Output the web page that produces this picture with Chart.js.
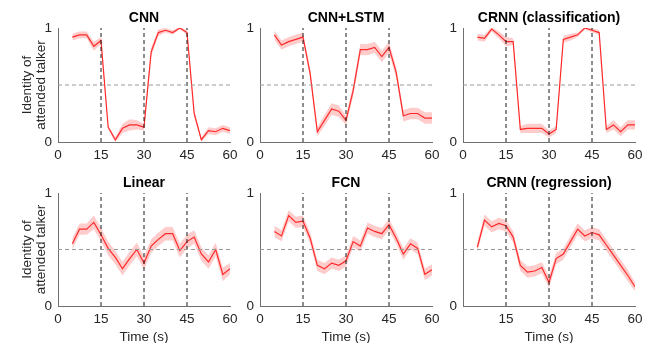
<!DOCTYPE html>
<html>
<head>
<meta charset="utf-8">
<script src="https://cdn.jsdelivr.net/npm/chart.js@4.4.1/dist/chart.umd.min.js"></script>
<style>
html, body { margin: 0; padding: 0; background: #fff; }
#wrap { position: relative; width: 656px; height: 343px; overflow: hidden; }
#wrap canvas { position: absolute; }
</style>
</head>
<body>
<div id="wrap"></div>
<script>
"use strict";

// time axis and ticks
var timeSec = [5, 7.5, 10, 12.5, 15, 17.5, 20, 22.5, 25, 27.5, 30, 32.5, 35, 37.5, 40, 42.5, 45, 47.5, 50, 52.5, 55, 57.5, 60];
var xTickValues = [0, 15, 30, 45, 60];
var yTickValues = [0, 1];
var switchTimes = [15, 30, 45];
var chanceLevel = 0.5;

var panelTitles = ['CNN', 'CNN+LSTM', 'CRNN (classification)', 'Linear', 'FCN', 'CRNN (regression)'];
var yAxisLabel = ['Identity of', 'attended talker'];
var xAxisLabel = 'Time (s)';

// mean and shaded band half-width, per model
var cnnMean = [0.92, 0.94, 0.94, 0.84, 0.89, 0.13, 0.02, 0.12, 0.15, 0.15, 0.13, 0.79, 0.96, 0.98, 0.96, 1.0, 0.96, 0.25, 0.02, 0.10, 0.09, 0.12, 0.10];
var cnnSem = [0.03, 0.03, 0.03, 0.04, 0.03, 0.02, 0.02, 0.04, 0.05, 0.04, 0.03, 0.04, 0.03, 0.02, 0.02, 0.01, 0.02, 0.03, 0.02, 0.03, 0.03, 0.03, 0.03];

var cnnLstmMean = [0.94, 0.85, 0.88, 0.90, 0.92, 0.60, 0.09, 0.19, 0.29, 0.27, 0.19, 0.45, 0.81, 0.81, 0.83, 0.75, 0.83, 0.61, 0.23, 0.25, 0.25, 0.21, 0.21];
var cnnLstmSem = [0.04, 0.04, 0.04, 0.04, 0.04, 0.04, 0.04, 0.05, 0.05, 0.05, 0.04, 0.05, 0.05, 0.05, 0.05, 0.05, 0.05, 0.05, 0.05, 0.05, 0.05, 0.05, 0.05];

var crnnClsMean = [0.92, 0.91, 0.99, 0.94, 0.88, 0.88, 0.11, 0.12, 0.12, 0.12, 0.07, 0.11, 0.90, 0.92, 0.94, 1.0, 0.98, 0.96, 0.11, 0.15, 0.09, 0.15, 0.15];
var crnnClsSem = [0.03, 0.03, 0.02, 0.03, 0.04, 0.03, 0.03, 0.04, 0.04, 0.04, 0.03, 0.03, 0.03, 0.03, 0.02, 0.01, 0.02, 0.02, 0.03, 0.04, 0.04, 0.04, 0.04];

var linearMean = [0.55, 0.68, 0.68, 0.74, 0.63, 0.51, 0.43, 0.33, 0.42, 0.50, 0.38, 0.53, 0.59, 0.64, 0.64, 0.49, 0.57, 0.61, 0.46, 0.39, 0.50, 0.28, 0.33];
var linearSem = [0.05, 0.05, 0.05, 0.06, 0.06, 0.06, 0.06, 0.06, 0.06, 0.06, 0.06, 0.06, 0.06, 0.06, 0.06, 0.06, 0.06, 0.06, 0.06, 0.06, 0.06, 0.06, 0.05];

var fcnMean = [0.66, 0.62, 0.80, 0.74, 0.75, 0.60, 0.36, 0.33, 0.38, 0.36, 0.40, 0.57, 0.53, 0.69, 0.66, 0.64, 0.72, 0.60, 0.46, 0.55, 0.51, 0.28, 0.32];
var fcnSem = [0.05, 0.05, 0.05, 0.05, 0.05, 0.05, 0.05, 0.05, 0.05, 0.05, 0.05, 0.05, 0.05, 0.05, 0.05, 0.05, 0.05, 0.05, 0.05, 0.05, 0.05, 0.05, 0.05];

var crnnRegMean = [0.52, 0.76, 0.70, 0.73, 0.71, 0.61, 0.36, 0.30, 0.31, 0.34, 0.21, 0.42, 0.46, 0.57, 0.68, 0.62, 0.65, 0.63, 0.54, 0.45, 0.36, 0.27, 0.17];
var crnnRegSem = [0.04, 0.05, 0.05, 0.05, 0.05, 0.05, 0.05, 0.05, 0.05, 0.05, 0.05, 0.05, 0.05, 0.05, 0.05, 0.05, 0.05, 0.05, 0.05, 0.05, 0.05, 0.05, 0.04];

var panelMeans = [cnnMean, cnnLstmMean, crnnClsMean, linearMean, fcnMean, crnnRegMean];
var panelSems = [cnnSem, cnnLstmSem, crnnClsSem, linearSem, fcnSem, crnnRegSem];

// layout (pixels)
var PLOT_LEFT = [58, 260, 463];
var PLOT_WIDTH = 172;
var ROW_TOP = [0, 165];
var ROW_HEIGHT = [165, 180];
var PLOT_HEIGHT = [114, 113];
var TITLE_SPACE = 28;
var RIGHT_PAD = 14;

var FONT = '"Liberation Sans", Arial, Helvetica, sans-serif';
var AXIS_COLOR = '#707070';
var TEXT_COLOR = '#262626';

var panelTitlePlugin = {
    id: 'panelTitle',
    afterDraw: function (chart, args, opts) {
        var ctx = chart.ctx;
        var area = chart.chartArea;
        ctx.save();
        ctx.font = 'bold 14px ' + FONT;
        ctx.fillStyle = '#000';
        ctx.textAlign = 'center';
        ctx.textBaseline = 'alphabetic';
        ctx.fillText(opts.text, (area.left + area.right) / 2, area.top - 6);
        ctx.restore();
    }
};

function toPoints(values, sign, errs) {
    return timeSec.map(function (t, i) {
        return { x: t, y: values[i] + sign * (errs ? errs[i] : 0) };
    });
}

function buildDatasets(mean, sem) {
    var sets = [];
    sets.push({
        data: [{ x: 0, y: chanceLevel }, { x: 60, y: chanceLevel }],
        borderColor: '#9a9a9a', borderWidth: 1, borderDash: [4, 3],
        pointRadius: 0, fill: false
    });
    switchTimes.forEach(function (t) {
        sets.push({
            data: [{ x: t, y: 0 }, { x: t, y: 1 }],
            borderColor: '#1a1a1a', borderWidth: 1, borderDash: [4, 3],
            pointRadius: 0, fill: false
        });
    });
    sets.push({
        data: toPoints(mean, 0),
        borderColor: '#ff2a2a', borderWidth: 1.2,
        pointRadius: 0, fill: false, tension: 0
    });
    sets.push({
        data: toPoints(mean, 1, sem),
        borderWidth: 0, borderColor: 'rgba(0,0,0,0)',
        pointRadius: 0, fill: false, tension: 0
    });
    sets.push({
        data: toPoints(mean, -1, sem),
        borderWidth: 0, borderColor: 'rgba(0,0,0,0)',
        backgroundColor: 'rgba(255,0,0,0.2)',
        pointRadius: 0, fill: '-1', tension: 0
    });
    return sets;
}

function makePanel(idx) {
    var row = Math.floor(idx / 3);
    var col = idx % 3;
    var yW = col === 0 ? 58 : 30;
    var width = yW + PLOT_WIDTH + RIGHT_PAD;
    var height = ROW_HEIGHT[row];
    var xH = height - TITLE_SPACE - PLOT_HEIGHT[row];
    var hideZero = idx === 5;

    var canvas = document.createElement('canvas');
    canvas.width = width;
    canvas.height = height;
    canvas.style.width = width + 'px';
    canvas.style.height = height + 'px';
    canvas.style.left = (PLOT_LEFT[col] - yW) + 'px';
    canvas.style.top = ROW_TOP[row] + 'px';
    document.getElementById('wrap').appendChild(canvas);

    new Chart(canvas, {
        type: 'line',
        data: { datasets: buildDatasets(panelMeans[idx], panelSems[idx]) },
        options: {
            responsive: false,
            animation: false,
            layout: { padding: { top: TITLE_SPACE, right: RIGHT_PAD, bottom: 0, left: 0 } },
            plugins: {
                legend: { display: false },
                tooltip: { enabled: false },
                panelTitle: { text: panelTitles[idx] }
            },
            scales: {
                x: {
                    type: 'linear',
                    min: 0,
                    max: 60,
                    afterBuildTicks: function (scale) {
                        scale.ticks = xTickValues.map(function (v) { return { value: v }; });
                    },
                    afterFit: function (scale) { scale.height = xH; },
                    grid: { display: false, drawTicks: false, tickLength: 0 },
                    border: { display: true, color: AXIS_COLOR, width: 1 },
                    ticks: {
                        padding: 5,
                        maxRotation: 0,
                        color: TEXT_COLOR,
                        font: { family: FONT, size: 13.5 },
                        callback: function (v) { return (hideZero && v === 0) ? '' : v; }
                    },
                    title: {
                        display: row === 1,
                        text: xAxisLabel,
                        color: TEXT_COLOR,
                        font: { family: FONT, size: 13.5, lineHeight: 1.2 },
                        padding: { top: 0, bottom: 0 }
                    }
                },
                y: {
                    type: 'linear',
                    min: 0,
                    max: 1,
                    afterBuildTicks: function (scale) {
                        scale.ticks = yTickValues.map(function (v) { return { value: v }; });
                    },
                    afterFit: function (scale) { scale.width = yW; },
                    grid: { display: false, drawTicks: false, tickLength: 0 },
                    border: { display: true, color: AXIS_COLOR, width: 1 },
                    ticks: {
                        padding: 6,
                        color: TEXT_COLOR,
                        font: { family: FONT, size: 13.5 }
                    },
                    title: {
                        display: col === 0,
                        text: yAxisLabel,
                        color: TEXT_COLOR,
                        font: { family: FONT, size: 13.5, lineHeight: 1.05 },
                        padding: { top: 20, bottom: 0 }
                    }
                }
            }
        },
        plugins: [panelTitlePlugin]
    });
}

for (var i = 0; i < panelTitles.length; i++) {
    makePanel(i);
}
</script>
</body>
</html>
